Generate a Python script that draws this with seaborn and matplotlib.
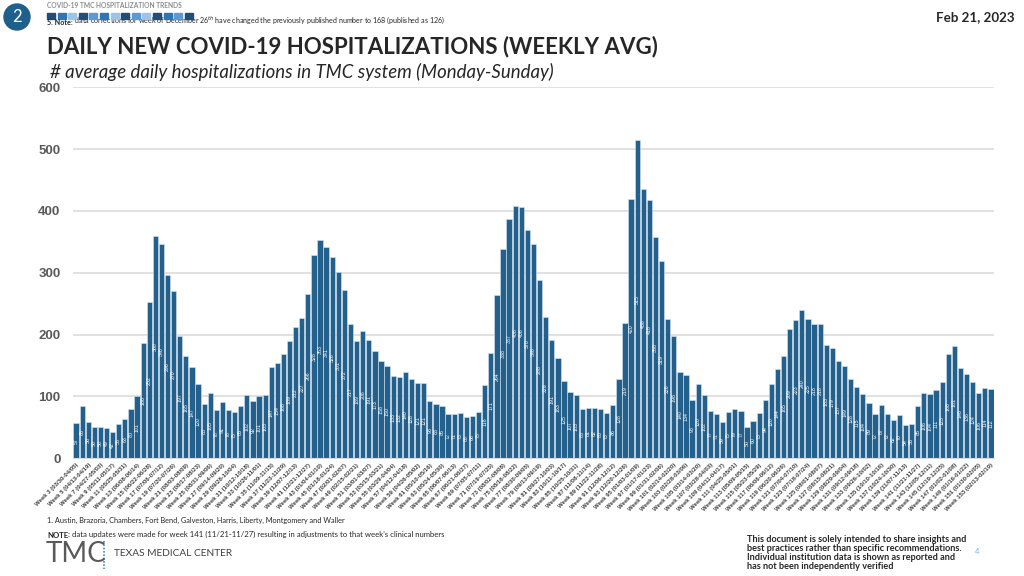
import matplotlib
matplotlib.use("Agg")
import matplotlib.pyplot as plt
import matplotlib.patches as mpatches
import numpy as np
import pandas as pd
import seaborn as sns

# weekly average daily new hospitalizations, week 3 .. week 153
hosp = [57, 85, 58, 50, 50, 49, 42, 55, 63, 80, 101, 186, 252, 360, 346, 296, 270, 197, 165, 147, 120, 88, 105,
        78, 91, 78, 75, 85, 102, 92, 101, 103, 147, 154, 168, 189, 212, 227, 266, 328, 353, 341, 326, 301, 272, 217, 189, 206, 191,
        173, 158, 150, 133, 132, 140, 128, 121, 121, 93, 88, 85, 72, 71, 73, 66, 68, 75, 118, 171, 264, 338, 387, 408, 406, 370, 346,
        288, 229, 191, 163, 125, 107, 103, 80, 81, 82, 80, 73, 86, 128, 219, 420, 515, 436, 418, 358, 319, 226, 198, 140, 134, 95, 120,
        102, 77, 71, 59, 75, 79, 77, 50, 60, 73, 94, 120, 144, 165, 209, 223, 240, 225, 218, 218, 183, 179, 157, 149, 128, 115, 104,
        89, 72, 87, 72, 62, 70, 54, 55, 85, 106, 104, 111, 123, 168, 181, 146, 136, 124, 106, 114, 112]
week_nums = list(range(3, 154))
week_start = pd.date_range("2020-03-30", periods=len(week_nums), freq="7D")
week_labels = [f"Week {w} ({d:%m/%d}-{(d + pd.Timedelta(days=6)):%m/%d})"
               for w, d in zip(week_nums, week_start)]
y_ticks = [0, 100, 200, 300, 400, 500, 600]

title = "DAILY NEW COVID-19 HOSPITALIZATIONS (WEEKLY AVG)"
subtitle = "# average daily hospitalizations in TMC system (Monday-Sunday)"
disclaimer = ["This document is solely intended to share insights and",
              "best practices rather than specific recommendations.",
              "Individual institution data is shown as reported and",
              "has not been independently verified"]

BAR = "#23608c"
W, H = 1024, 576
ARIAL = ["Liberation Sans", "DejaVu Sans"]

sns.set_style("white")
plt.rcParams["font.family"] = ["Lato", "DejaVu Sans"]

fig = plt.figure(figsize=(10.24, 5.76), dpi=100)
renderer = fig.canvas.get_renderer()


def fx(px):
    return px / W


def fy(py):
    return 1 - py / H


def fit(t, width_px):
    # scale font so the text spans the given pixel width
    w = t.get_window_extent(renderer).width
    t.set_fontsize(t.get_fontsize() * width_px / w)
    return t


# chart
ax = fig.add_axes([fx(73), fy(458.3), fx(994 - 73), (458.3 - 87.3) / H])
df = pd.DataFrame({"week": week_labels, "hosp": hosp})
sns.barplot(data=df, x="week", y="hosp", color=BAR, saturation=1, width=0.86,
            edgecolor="#d6e4ef", linewidth=0.4, ax=ax)
ax.bar_label(ax.containers[0], label_type="center", rotation=90, fontsize=3.8,
             color="white", family=ARIAL)
ax.set_ylim(0, 600)
ax.set_xlim(-0.5, len(hosp) - 0.5)
ax.set_yticks(y_ticks)
ax.set_yticklabels([str(v) for v in y_ticks], fontsize=9.5, fontweight="bold",
                   color="#595959", family=ARIAL)
ax.set_xticks(range(0, len(hosp), 2))
ax.set_xticklabels(week_labels[::2], rotation=45, ha="right", rotation_mode="anchor",
                   fontsize=4.3, fontweight="bold", color="#404040", family=ARIAL)
ax.tick_params(axis="both", length=0, pad=3)
ax.tick_params(axis="y", pad=9)
ax.set_xlabel("")
ax.set_ylabel("")
ax.yaxis.grid(True, color="#d9d9d9", linewidth=1.1)
ax.set_axisbelow(True)
for s in ["left", "right", "top"]:
    ax.spines[s].set_visible(False)
ax.spines["bottom"].set_color("#d9d9d9")

# header
fig.patches.append(mpatches.Ellipse((fx(17), fy(17)), 26 / W, 26 / H, transform=fig.transFigure,
                                    color="#1f5f8c", figure=fig))
fig.text(fx(17), fy(17), "2", fontsize=12, color="white", ha="center", va="center")
fig.text(fx(47), fy(6), "COVID-19 TMC HOSPITALIZATION TRENDS", fontsize=4.8,
         color="#8c8c8c", va="center", fontweight="bold")
sq_colors = ["#1f4e79", "#2e75b6", "#9dc3e6", "#1f4e79", "#5b9bd5", "#2e75b6", "#9dc3e6",
             "#1f4e79", "#5b9bd5", "#9dc3e6", "#1f4e79", "#2e75b6", "#5b9bd5", "#1f4e79"]
for i, c in enumerate(sq_colors):
    fig.patches.append(mpatches.Rectangle((fx(47 + i * 10.6), fy(19)), 8 / W, 6 / H,
                                          transform=fig.transFigure, color=c, figure=fig))
note_fs = 5.2
n1 = fig.text(fx(47), fy(25), "5. Note:", fontsize=note_fs, fontweight="bold", va="baseline")
n2 = ax.annotate(" data corrections for week of December 26$^{th}$ have changed the previously "
                 "published number to 168 (published as 126)", xy=(1, 0), xycoords=n1,
                 fontsize=note_fs, va="bottom", ha="left", annotation_clip=False)
note_w = n1.get_window_extent(renderer).width + n2.get_window_extent(renderer).width
for tt in (n1, n2):
    tt.set_fontsize(note_fs * 400 / note_w)

t = fig.text(fx(47), fy(53), title, fontsize=18, fontweight="bold", va="baseline",
             family=["Liberation Sans Narrow", "Lato", "DejaVu Sans"])
fit(t, 613)
st = fig.text(fx(50), fy(78), subtitle, fontsize=13, style="italic", va="baseline")
fit(st, 503)
fig.text(fx(1015), fy(17), "Feb 21, 2023", fontsize=9.6, fontweight="bold",
         ha="right", va="center")

# footer
fig.text(fx(47), fy(520), "1. Austin, Brazoria, Chambers, Fort Bend, Galveston, Harris, "
         "Liberty, Montgomery and Waller", fontsize=5.3, va="center", color="#262626")
nb = fig.text(fx(47), fy(535), "NOTE", fontsize=5.6, fontweight="bold", va="center")
ax.annotate(": data updates were made for week 141 (11/21-11/27) resulting in adjustments "
            "to that week\u2019s clinical numbers", xy=(1, 0), xycoords=nb, fontsize=5.6,
            va="bottom", ha="left", color="#262626", annotation_clip=False)
fig.text(fx(46), fy(554), "TMC", fontsize=20, fontweight="normal", color="#5a5a5a", va="center")
fig.add_artist(plt.Line2D([fx(104), fx(104)], [fy(541), fy(569)], color="#3a8fc7",
                          linewidth=1.2, linestyle=(0, (1, 1)), transform=fig.transFigure))
fig.text(fx(114), fy(554), "TEXAS MEDICAL CENTER", fontsize=7.3, color="#404040", va="center")
disc = [fig.text(fx(747), fy(540 + i * 8.8), line, fontsize=5.4, fontweight="bold", va="center")
        for i, line in enumerate(disclaimer)]
scale = 216 / disc[1].get_window_extent(renderer).width
for tt in disc:
    tt.set_fontsize(tt.get_fontsize() * scale)
fig.text(fx(975), fy(551), "4", fontsize=5.5, color="#7fb3de", va="center")

fig.savefig("out.png", dpi=100)
